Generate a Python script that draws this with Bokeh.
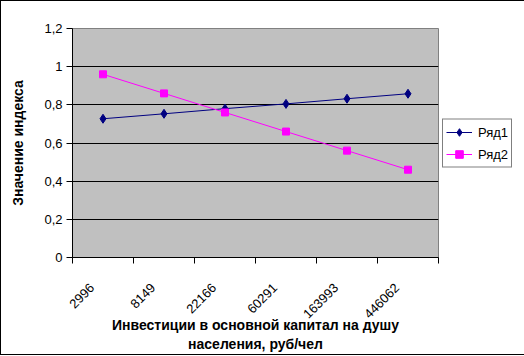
from bokeh.plotting import figure
from bokeh.models import (Range1d, FixedTicker, CustomJSTickFormatter, Legend, LegendItem)
from bokeh.embed import file_html
from bokeh.resources import INLINE
import math

categories = ["2996", "8149", "22166", "60291", "163993", "446062"]
series1_name = "Ряд1"
series1 = [0.727, 0.753, 0.780, 0.805, 0.832, 0.858]
series2_name = "Ряд2"
series2 = [0.96, 0.86, 0.76, 0.66, 0.56, 0.46]
y_ticks = [0, 0.2, 0.4, 0.6, 0.8, 1.0, 1.2]
x_title = "Инвестиции в основной капитал на душу\nнаселения, руб/чел"
y_title = "Значение индекса"

xs = [i + 0.5 for i in range(len(categories))]
label_pos = [i + 0.32 for i in range(len(categories))]
FONT = "Liberation Sans"

p = figure(frame_width=366, frame_height=229,
           min_border_left=71, min_border_top=27, min_border_right=83, min_border_bottom=95,
           x_range=Range1d(0, len(categories)), y_range=Range1d(0, 1.2),
           output_backend="svg", toolbar_location=None,
           background_fill_color="#C0C0C0", border_fill_color="white")
p.styles = {"border": "1px solid black"}
p.outline_line_color = "#808080"
p.outline_line_width = 1

# y axis
p.yaxis.ticker = FixedTicker(ticks=y_ticks)
p.yaxis.formatter = CustomJSTickFormatter(code="var s=(Math.round(tick*10)/10).toString(); return s.replace('.', ',');")
p.yaxis.major_tick_out = 6
p.yaxis.major_tick_in = 0
p.yaxis.minor_tick_line_color = None
p.yaxis.axis_line_color = "black"
p.yaxis.major_tick_line_color = "black"
p.yaxis.major_label_text_font = FONT
p.yaxis.major_label_text_font_size = "13px"
p.yaxis.major_label_text_color = "black"
p.yaxis.major_label_standoff = 4
p.yaxis.axis_label = y_title
p.yaxis.axis_label_text_font = FONT
p.yaxis.axis_label_text_font_size = "14px"
p.yaxis.axis_label_text_font_style = "bold"
p.yaxis.axis_label_text_color = "black"
p.yaxis.axis_label_standoff = 15

# x axis: labels near category centres, tick marks at category boundaries
p.xaxis.ticker = FixedTicker(ticks=label_pos, minor_ticks=list(range(len(categories) + 1)))
p.xaxis.formatter = CustomJSTickFormatter(args=dict(cats=categories),
                                          code="return cats[Math.floor(tick)];")
p.xaxis.major_tick_line_color = None
p.xaxis.major_tick_out = 0
p.xaxis.major_tick_in = 0
p.xaxis.minor_tick_line_color = "black"
p.xaxis.minor_tick_out = 6
p.xaxis.minor_tick_in = 0
p.xaxis.axis_line_color = "black"
p.xaxis.major_label_orientation = math.pi / 4
p.xaxis.major_label_text_font = FONT
p.xaxis.major_label_text_font_size = "13px"
p.xaxis.major_label_text_color = "black"
p.xaxis.major_label_standoff = 22
p.xaxis.axis_label = x_title
p.xaxis.axis_label_text_font = FONT
p.xaxis.axis_label_text_font_size = "14px"
p.xaxis.axis_label_text_font_style = "bold"
p.xaxis.axis_label_text_color = "black"
p.xaxis.axis_label_standoff = -9

p.xgrid.grid_line_color = None
p.ygrid.ticker = FixedTicker(ticks=[t for t in y_ticks if 0 < t < 1.2])
p.ygrid.grid_line_color = "black"
p.ygrid.grid_line_width = 1

l1 = p.line(xs, series1, line_color="#000080", line_width=1)
s1 = p.scatter(xs, series1, marker="diamond", size=9, fill_color="#000080", line_color="#000080")
l2 = p.line(xs, series2, line_color="#FF00FF", line_width=1)
s2 = p.scatter(xs, series2, marker="square", size=7, fill_color="#FF00FF", line_color="#FF00FF")

legend = Legend(items=[LegendItem(label=series1_name, renderers=[l1, s1]),
                       LegendItem(label=series2_name, renderers=[l2, s2])],
                location="center_left", margin=4, padding=3, spacing=3,
                glyph_width=26, glyph_height=19, label_height=19, label_standoff=6,
                label_text_font=FONT, label_text_font_size="13px", label_text_color="black",
                border_line_color="black", border_line_width=1, background_fill_color="white",
                background_fill_alpha=1)
p.add_layout(legend, "right")

open("out.html", "w").write(file_html(p, INLINE))
